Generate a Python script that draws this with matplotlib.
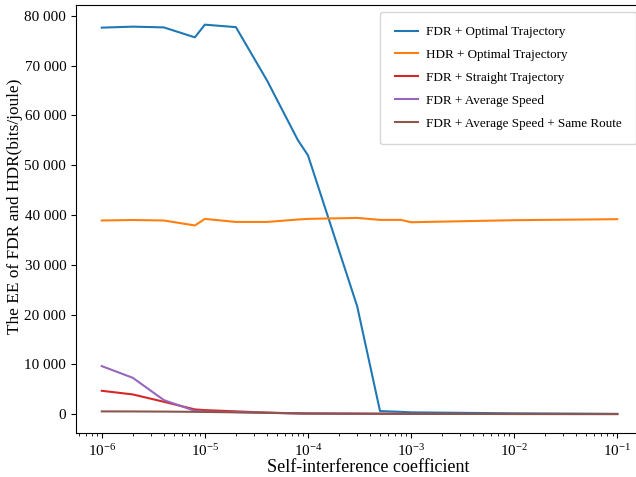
import matplotlib
matplotlib.use("Agg")
import matplotlib.pyplot as plt
from matplotlib.ticker import FuncFormatter, LogLocator

plt.rcParams['font.family'] = ['Liberation Serif', 'DejaVu Serif']
plt.rcParams['mathtext.fontset'] = 'custom'
plt.rcParams['mathtext.rm'] = 'Liberation Serif'
plt.rcParams['mathtext.it'] = 'Liberation Serif:italic'
plt.rcParams['mathtext.bf'] = 'Liberation Serif:bold'

x_vals = [1e-6, 2e-6, 4e-6, 8e-6, 1e-5, 2e-5, 4e-5, 8e-5, 1e-4, 3e-4, 5e-4, 8e-4, 1e-3, 1e-2, 1e-1]

fdr_optimal = [77650, 77850, 77700, 75700, 78250, 77750, 67070, 55020, 52000, 21690, 600, 450, 350, 150, 50]
hdr_optimal = [38900, 39000, 38900, 37900, 39220, 38610, 38610, 39100, 39220, 39420, 39020, 39020, 38550, 38960, 39160]
fdr_straight = [4680, 3950, 2470, 940, 800, 550, 300, 150, 120, 80, 60, 50, 40, 20, 10]
fdr_avg_speed = [9640, 7290, 2810, 650, 500, 400, 250, 130, 100, 60, 50, 40, 30, 15, 10]
fdr_avg_same = [540, 530, 500, 450, 430, 350, 250, 150, 120, 80, 60, 50, 40, 20, 10]

labels = ['FDR + Optimal Trajectory', 'HDR + Optimal Trajectory', 'FDR + Straight Trajectory',
          'FDR + Average Speed', 'FDR + Average Speed + Same Route']
colors = ['#1f77b4', '#ff7f0e', '#d62728', '#9467bd', '#8c564b']
series = [fdr_optimal, hdr_optimal, fdr_straight, fdr_avg_speed, fdr_avg_same]

fig = plt.figure(figsize=(6.4, 4.8), dpi=99.375)
ax = fig.add_axes([76/636, 1-433/477, (643-76)/636, (433-5)/477])

for s, c, l in zip(series, colors, labels):
    ax.plot(x_vals, s, color=c, label=l, linewidth=1.5)

ax.set_xscale('log')
ax.set_xlim(10**-6.25, 10**-0.75)
ax.set_ylim(-3800, 82200)
ax.set_yticks(range(0, 80001, 10000))
ax.yaxis.set_major_formatter(FuncFormatter(lambda v, p: f"{int(v):,}".replace(',', ' ')))
ax.xaxis.set_major_locator(LogLocator(base=10, numticks=10))
ax.xaxis.set_minor_locator(LogLocator(base=10, subs=range(2, 10), numticks=20))

ax.tick_params(axis='both', labelsize=11)
ax.set_xlabel('Self-interference coefficient', fontsize=13, labelpad=0)
ax.xaxis.label.set_x(0.515)
ax.set_ylabel('The EE of FDR and HDR(bits/joule)', fontsize=12.5, labelpad=1)
ax.yaxis.label.set_y(0.53)

ax.legend(loc='upper right', fontsize=9.5, borderpad=1.1, labelspacing=0.82,
          handlelength=1.8, handletextpad=0.6)

fig.savefig('out.png', dpi=99.375)
